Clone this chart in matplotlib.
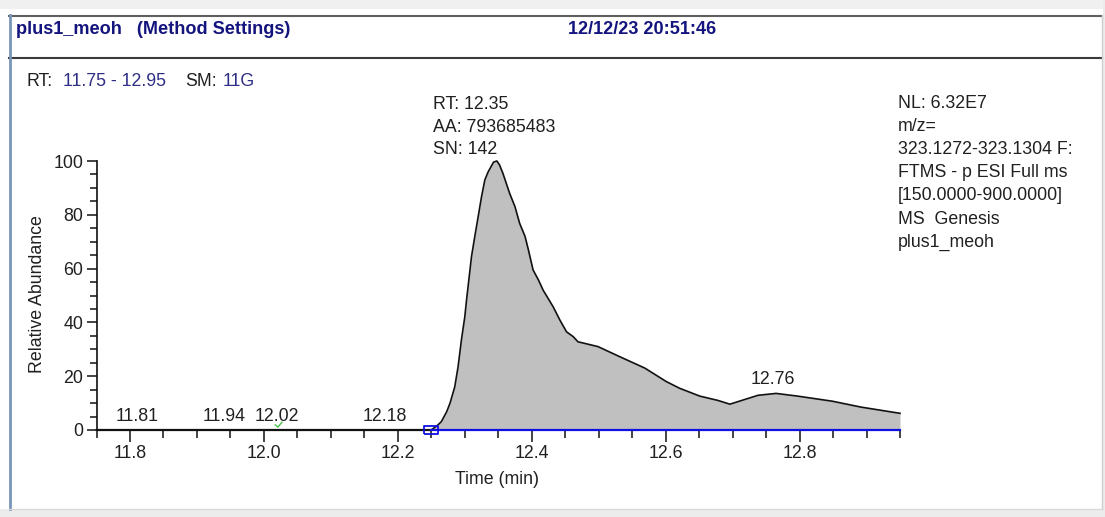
import numpy as np
import matplotlib
matplotlib.use("Agg")
import matplotlib.pyplot as plt
from matplotlib.lines import Line2D
from matplotlib.patches import Rectangle
from matplotlib.ticker import MultipleLocator

plt.rcParams["font.family"] = ["Liberation Sans", "DejaVu Sans"]

W, H = 1105, 517

# ----------------------------
# data
# ----------------------------
time = [11.75, 12.25, 12.26, 12.265, 12.273, 12.278, 12.285, 12.29, 12.295,
        12.30, 12.3025, 12.31, 12.315, 12.32, 12.325, 12.33, 12.335, 12.343,
        12.348, 12.352, 12.357, 12.362, 12.367, 12.375, 12.382, 12.39, 12.395,
        12.402, 12.41, 12.417, 12.432, 12.442, 12.452, 12.462, 12.469, 12.499,
        12.531, 12.569, 12.601, 12.621, 12.651, 12.678, 12.696, 12.738,
        12.765, 12.797, 12.849, 12.892, 12.95]
abundance = [0, 0, 1.9, 3.1, 6.8, 10, 16, 23.5, 33.5,
             42, 48, 64.4, 72, 79.3, 86.7, 93, 96, 99.6,
             100, 98.5, 95.4, 91.7, 88, 83, 76.8, 72, 67,
             59.5, 55.8, 52, 45.8, 40.9, 36.5, 34.7, 32.8, 31,
             27.3, 23, 18, 15.5, 12.6, 11.0, 9.6, 12.9,
             13.6, 12.6, 10.7, 8.5, 6.2]

peak_rts = [11.81, 11.94, 12.02, 12.18, 12.76]
base_start, base_end = 12.25, 12.95
apex_rt = 12.35
apex_text = ["SN: 142", "AA: 793685483", "RT: 12.35"]
info_text = ["NL: 6.32E7", "m/z=", "323.1272-323.1304 F:", "FTMS - p ESI Full ms",
             "[150.0000-900.0000]", "MS  Genesis", "plus1_meoh"]
green_x = [12.017, 12.021, 12.027]
green_y = [1.9, 1.1, 2.9]

TXT = "#202020"
NAVY = "#14147e"
FS = 12.8


def fx(x):
    return x / W


def fy(y):
    return 1 - y / H


fig = plt.figure(figsize=(W / 100, H / 100), dpi=100)
fig.patch.set_facecolor("white")

# window frame
fig.add_artist(Rectangle((0, fy(9)), 1, 9 / H, transform=fig.transFigure,
                         color="#f0f0f0", lw=0, zorder=0))
fig.add_artist(Rectangle((0, 0), 1, 8 / H, transform=fig.transFigure,
                         color="#ececec", lw=0, zorder=0))
fig.add_artist(Rectangle((fx(1103), 0), 2 / W, 1, transform=fig.transFigure,
                         color="#ececec", lw=0, zorder=0))
fig.add_artist(Line2D([fx(9), fx(1102)], [fy(15.5), fy(15.5)], color="#606060", lw=1.5))
fig.add_artist(Line2D([fx(9), fx(1102)], [fy(58), fy(58)], color="#3a3a3a", lw=1.5))
fig.add_artist(Line2D([fx(10), fx(10)], [fy(15), fy(509)], color="#7a94b8", lw=2))
fig.add_artist(Line2D([fx(1102), fx(1102)], [fy(15), fy(509)], color="#cfcfcf", lw=1))
fig.add_artist(Line2D([fx(9), fx(1102)], [fy(509), fy(509)], color="#d8d8d8", lw=1))

# header
fig.text(fx(16), fy(30), "plus1_meoh   (Method Settings)", color=NAVY,
         fontsize=FS + 0.3, fontweight="bold", va="center", ha="left")
fig.text(fx(568), fy(30), "12/12/23 20:51:46", color=NAVY,
         fontsize=FS + 0.3, fontweight="bold", va="center", ha="left")

# range line
for x0, s, c in [(26, "RT:", TXT), (63, "11.75 - 12.95", "#2e2e86"),
                 (185, "SM:", TXT), (223, "11G", "#2e2e86")]:
    fig.text(fx(x0), fy(82), s, color=c, fontsize=FS, va="center", ha="left")

for i, line in enumerate(info_text):
    fig.text(fx(898), fy(103 + i * 23.2), line, color=TXT, fontsize=FS,
             va="center", ha="left")

# ----------------------------
# chromatogram
# ----------------------------
ax = fig.add_axes([fx(96.5), fy(430), (900 - 96.5) / W, (430 - 161) / H])
ax.set_xlim(11.75, 12.95)
ax.set_ylim(0, 100)
ax.patch.set_alpha(0)

t = np.array(time)
a = np.array(abundance)
mask = t >= base_start
ax.fill_between(t[mask], a[mask], 0, color="#c0c0c0", lw=0, zorder=2)
ax.plot(t, a, color="#111111", lw=1.2, zorder=3, clip_on=False)
ax.plot([11.75, base_start], [0, 0], color="#111111", lw=1.6, zorder=3, clip_on=False)
ax.plot([base_start, base_end], [0, 0], color="#1010e0", lw=1.6, zorder=4, clip_on=False)
box = [(-1.6, -1), (1.6, -1), (1.6, 1), (-1.6, 1), (-1.6, -1)]
ax.plot([base_start], [0], marker=box, markersize=10, mfc="none", mec="#1010e0",
        mew=1.3, zorder=5, clip_on=False)
ax.plot(green_x, green_y, color="#4cc04c", lw=1, zorder=5)

for rt in peak_rts:
    h = np.interp(rt, t, a)
    ax.annotate(f"{rt:.2f}", (rt, h), xytext=(0, 10), textcoords="offset points",
                ha="center", va="center", fontsize=FS, color=TXT)

apex_h = np.interp(apex_rt, t, a)
for i, line in enumerate(apex_text):
    ax.annotate(line, (apex_rt, apex_h), xytext=(-47, 9.4 + i * 16.2),
                textcoords="offset points", ha="left", va="center",
                fontsize=FS, color=TXT, annotation_clip=False)

for side in ["top", "right"]:
    ax.spines[side].set_visible(False)
ax.spines["left"].set_linewidth(1.2)
ax.spines["bottom"].set_linewidth(1.2)
ax.spines["left"].set_color("#111111")
ax.spines["bottom"].set_color("#111111")

ax.xaxis.set_major_locator(MultipleLocator(0.2))
ax.xaxis.set_minor_locator(MultipleLocator(0.05))
ax.yaxis.set_major_locator(MultipleLocator(20))
ax.yaxis.set_minor_locator(MultipleLocator(5))
ax.set_xticks([11.8, 12.0, 12.2, 12.4, 12.6, 12.8])
ax.set_xticklabels(["11.8", "12.0", "12.2", "12.4", "12.6", "12.8"])
ax.tick_params(axis="x", which="major", length=8.5, width=1.1, pad=2,
               labelsize=FS, labelcolor=TXT, color="#111111")
ax.tick_params(axis="x", which="minor", length=5.5, width=1.1, color="#111111")
ax.tick_params(axis="y", which="major", length=7, width=1.1, pad=2.5,
               labelsize=FS, labelcolor=TXT, color="#111111")
ax.tick_params(axis="y", which="minor", length=5, width=1.1, color="#111111")

ax.text((38 - 96.5) / 803.5, (430 - 294) / 269, "Relative Abundance",
        transform=ax.transAxes, rotation=90, ha="center", va="center",
        fontsize=FS, color=TXT)
ax.text((497 - 96.5) / 803.5, (430 - 480) / 269, "Time (min)",
        transform=ax.transAxes, ha="center", va="center", fontsize=FS, color=TXT)

fig.savefig("out.png", dpi=100)
